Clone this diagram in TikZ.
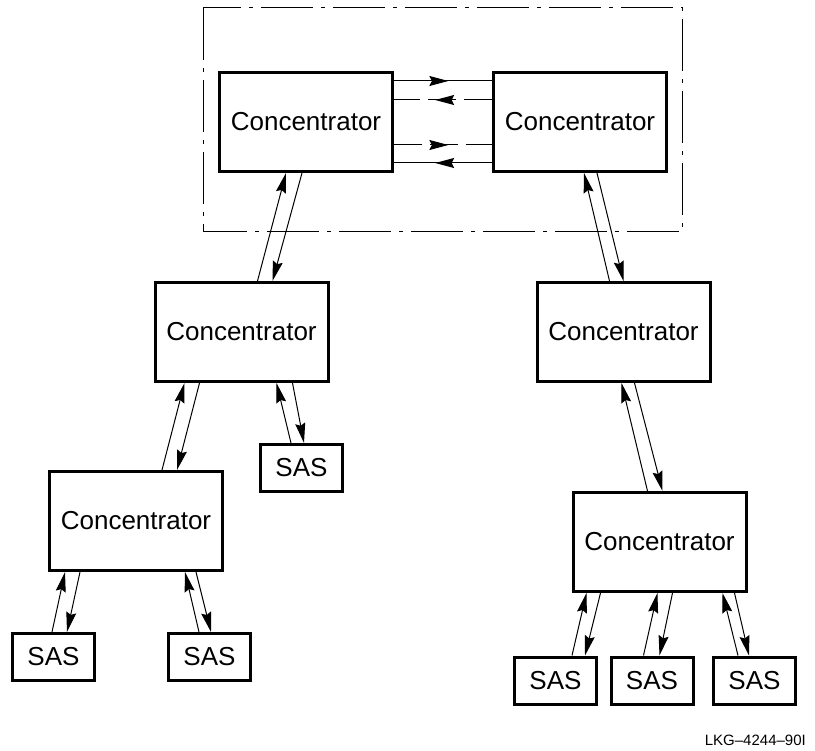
\documentclass[tikz,border=0pt]{standalone}
\usepackage{fontspec}
\setmainfont{Liberation Sans}
\usetikzlibrary{arrows.meta,decorations.markings}
\begin{document}
\begin{tikzpicture}[x=1pt,y=-1pt,
  conc/.style={draw,line width=3pt,minimum width=173pt,minimum height=99pt,inner sep=0pt,
    font=\fontsize{26}{30}\selectfont},
  sas/.style={draw,line width=3pt,minimum width=82pt,minimum height=47pt,inner sep=0pt,
    font=\fontsize{26}{30}\selectfont},
  arr/.style={line width=1pt,-{Stealth[length=20pt,width=10pt,inset=2.5pt]}},
  hl/.style={line width=1pt},
  dsh/.style={dash pattern=on 28pt off 8pt},
  midr/.style={postaction={decorate},decoration={markings,
    mark=at position #1 with {\arrow{Stealth[length=19pt,width=10pt,inset=2.5pt]}}}},
  grpbox/.style={line width=1pt,dash pattern=on 52pt off 8pt on 4pt off 8pt}
]
\useasboundingbox (0,0) rectangle (815,751);
\fill[white] (0,0) rectangle (815,751);

\draw[grpbox] (203,8) rectangle (682,232);

\node[conc] (TL) at (306,122) {Concentrator};
\node[conc] (TR) at (580,122) {Concentrator};
\node[conc] (ML) at (241.5,332) {Concentrator};
\node[conc] (MR) at (623.5,332) {Concentrator};
\node[conc] (BL) at (136,521) {Concentrator};
\node[conc] (BR) at (659.5,542) {Concentrator};

\node[sas] (S0) at (301.5,468) {SAS};
\node[sas] (S1) at (53.5,657) {SAS};
\node[sas] (S2) at (209.5,657) {SAS};
\node[sas] (S3) at (555.5,680.5) {SAS};
\node[sas] (S4) at (652,680.5) {SAS};
\node[sas] (S5) at (754.5,680.5) {SAS};

% horizontal links between the top concentrators
\draw[hl,midr=0.555] ([yshift=41pt]TL.east) -- ([yshift=41pt]TR.west);
\draw[hl,dsh,midr=0.58] ([yshift=22pt]TR.west) -- ([yshift=22pt]TL.east);
\draw[hl,dsh,midr=0.555] ([yshift=-23pt]TL.east) -- ([yshift=-23pt]TR.west);
\draw[hl,midr=0.58] ([yshift=-41pt]TR.west) -- ([yshift=-41pt]TL.east);

% TL - ML
\draw[arr] ([xshift=104pt]ML.north west) -- ([xshift=68pt]TL.south west);
\draw[arr] ([xshift=84pt]TL.south west) -- ([xshift=119pt]ML.north west);
% TR - MR
\draw[arr] ([xshift=74pt]MR.north west) -- ([xshift=92pt]TR.south west);
\draw[arr] ([xshift=105pt]TR.south west) -- ([xshift=88pt]MR.north west);
% MR - BR
\draw[arr] ([xshift=76pt]BR.north west) -- ([xshift=86pt]MR.south west);
\draw[arr] ([xshift=99pt]MR.south west) -- ([xshift=91pt]BR.north west);
% ML - BL
\draw[arr] ([xshift=114pt]BL.north west) -- ([xshift=31pt]ML.south west);
\draw[arr] ([xshift=46pt]ML.south west) -- ([xshift=129pt]BL.north west);
% ML - SAS
\draw[arr] ([xshift=32pt]S0.north west) -- ([xshift=123pt]ML.south west);
\draw[arr] ([xshift=139pt]ML.south west) -- ([xshift=45pt]S0.north west);
% BL - SAS
\draw[arr] ([xshift=41pt]S1.north west) -- ([xshift=17pt]BL.south west);
\draw[arr] ([xshift=32pt]BL.south west) -- ([xshift=56pt]S1.north west);
\draw[arr] ([xshift=32pt]S2.north west) -- ([xshift=137pt]BL.south west);
\draw[arr] ([xshift=148pt]BL.south west) -- ([xshift=44pt]S2.north west);
% BR - SAS
\draw[arr] ([xshift=59pt]S3.north west) -- ([xshift=15pt]BR.south west);
\draw[arr] ([xshift=29pt]BR.south west) -- ([xshift=72pt]S3.north west);
\draw[arr] ([xshift=34pt]S4.north west) -- ([xshift=86pt]BR.south west);
\draw[arr] ([xshift=101pt]BR.south west) -- ([xshift=50pt]S4.north west);
\draw[arr] ([xshift=26pt]S5.north west) -- ([xshift=151pt]BR.south west);
\draw[arr] ([xshift=163pt]BR.south west) -- ([xshift=37pt]S5.north west);

\node[anchor=base east,inner sep=0pt,font=\fontsize{15}{18}\selectfont] (lbl) at (806,745) {LKG–4244–90I};
\end{tikzpicture}
\end{document}
